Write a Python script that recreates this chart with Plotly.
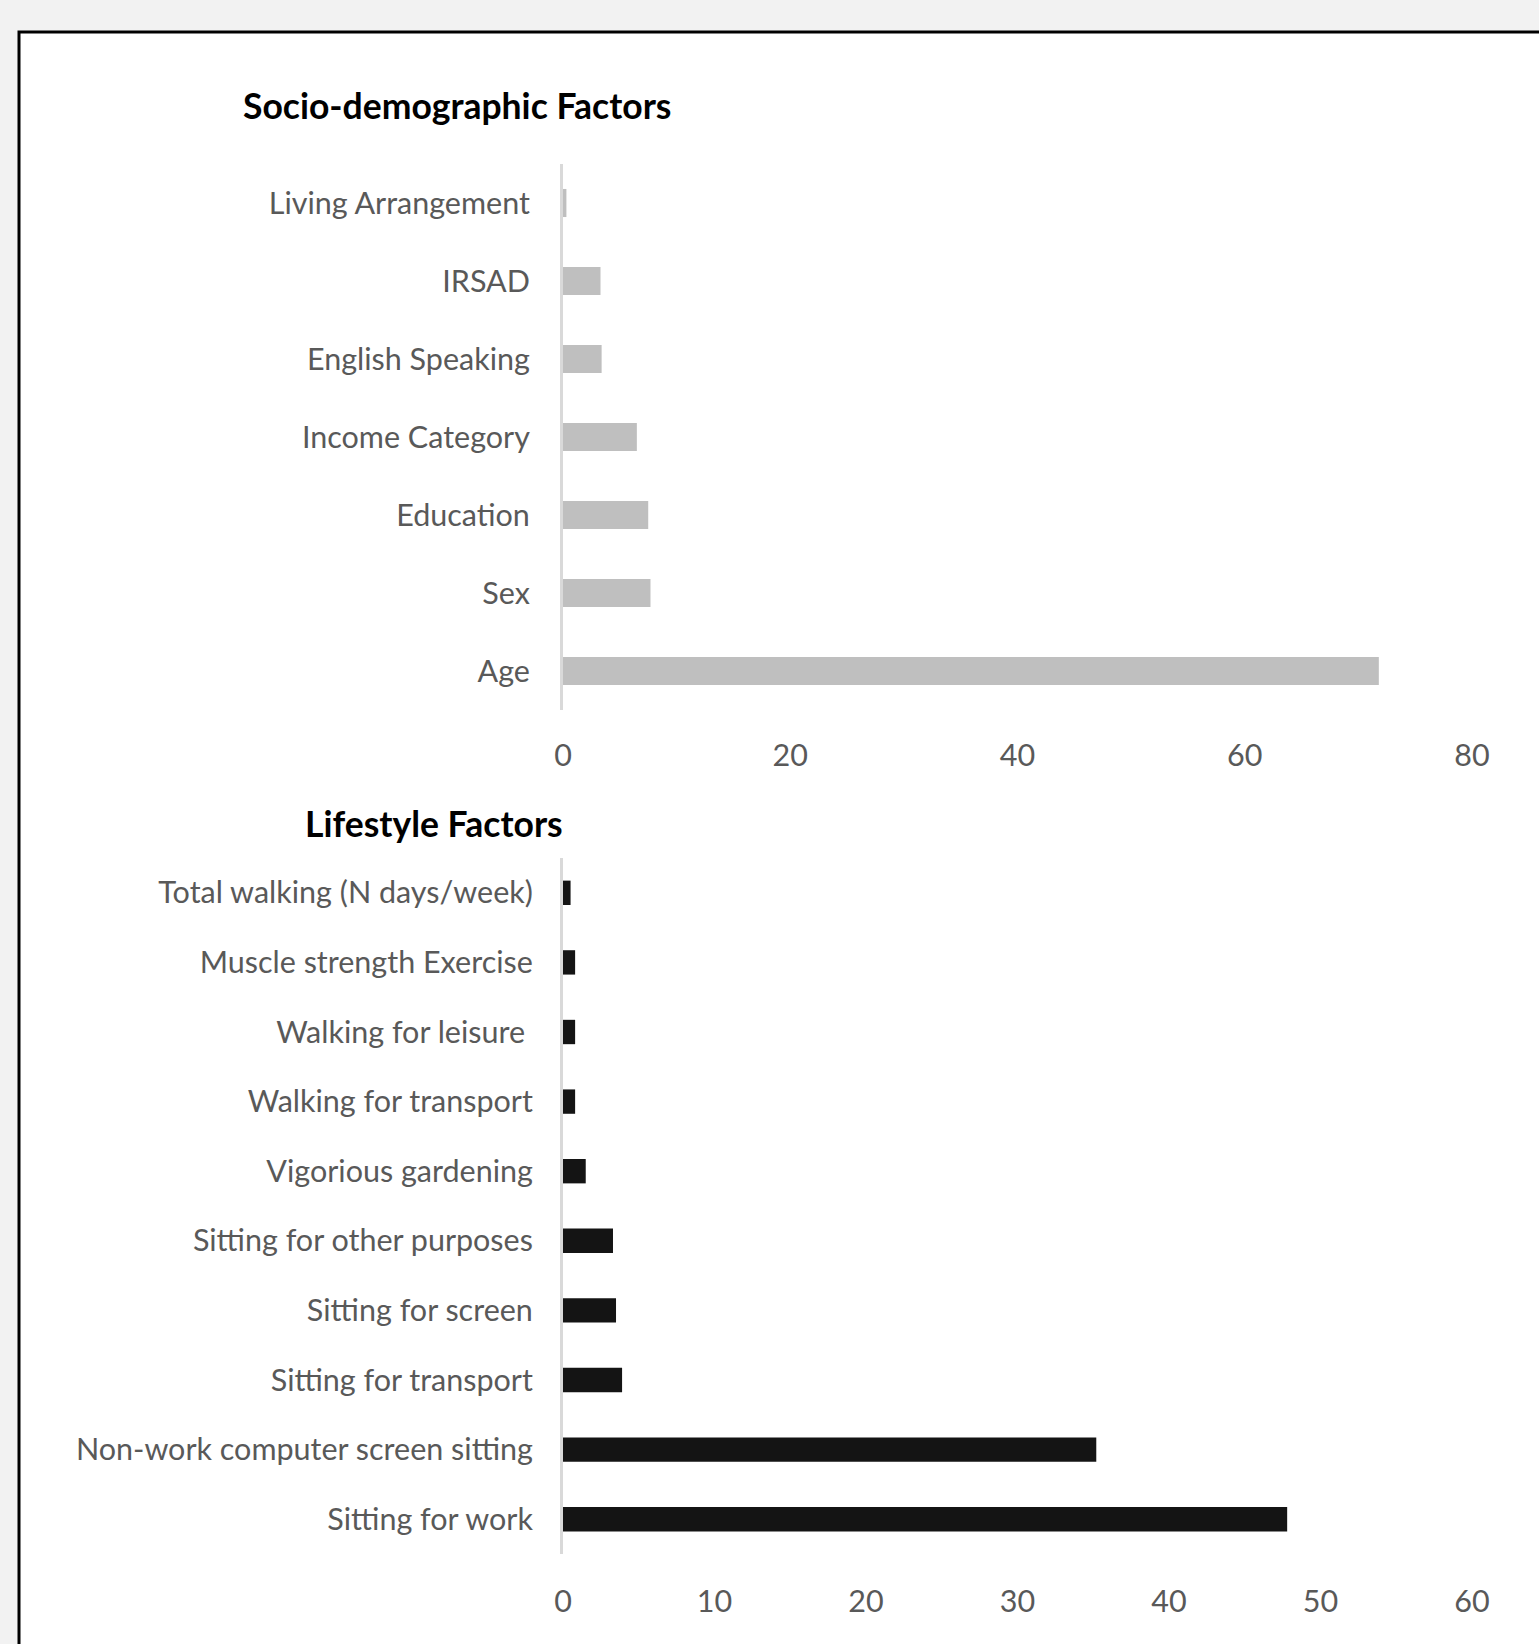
import plotly.graph_objects as go

W, H = 1539, 1644

socio_labels = ["Living Arrangement", "IRSAD", "English Speaking", "Income Category",
                "Education", "Sex", "Age"]
socio_values = [0.3, 3.3, 3.4, 6.5, 7.5, 7.7, 71.8]
socio_ticks = [0, 20, 40, 60, 80]

life_labels = ["Total walking (N days/week)", "Muscle strength Exercise", "Walking for leisure ",
               "Walking for transport", "Vigorious gardening", "Sitting for other purposes",
               "Sitting for screen", "Sitting for transport", "Non-work computer screen sitting",
               "Sitting for work"]
life_values = [0.5, 0.8, 0.8, 0.8, 1.5, 3.3, 3.5, 3.9, 35.2, 47.8]
life_ticks = [0, 10, 20, 30, 40, 50, 60]

FONT = "Lato"
TXT = "#595959"

fig = go.Figure()
fig.add_trace(go.Bar(x=socio_values, y=socio_labels, orientation="h",
                     marker=dict(color="#bfbfbf", line=dict(width=0)), width=0.36,
                     xaxis="x", yaxis="y", showlegend=False))
fig.add_trace(go.Bar(x=life_values, y=life_labels, orientation="h",
                     marker=dict(color="#141414", line=dict(width=0)), width=0.35,
                     xaxis="x2", yaxis="y2", showlegend=False))

xd = [563 / W, 1472 / W]


def xax(**kw):
    d = dict(showgrid=False, zeroline=False, showline=False, ticks="outside", ticklen=18,
             tickcolor="rgba(0,0,0,0)", tickfont=dict(family=FONT, size=30.5, color=TXT))
    d.update(kw)
    return d


def yax(tl, **kw):
    d = dict(showgrid=False, zeroline=False, showline=True, linecolor="#d9d9d9", linewidth=3,
             ticks="outside", ticklen=tl, tickcolor="rgba(0,0,0,0)",
             tickfont=dict(family=FONT, size=30.5, color=TXT), autorange="reversed",
             type="category")
    d.update(kw)
    return d


fig.update_layout(
    width=W, height=H, autosize=False,
    margin=dict(l=0, r=0, t=0, b=0, pad=0, autoexpand=False),
    paper_bgcolor="#f2f2f2", plot_bgcolor="rgba(0,0,0,0)",
    xaxis=xax(domain=xd, range=[0, 80], tickvals=socio_ticks, anchor="y"),
    yaxis=yax(24, domain=[1 - 710 / H, 1 - 164 / H], anchor="x"),
    xaxis2=xax(domain=xd, range=[0, 60], tickvals=life_ticks, anchor="y2", ticklen=20),
    yaxis2=yax(21, domain=[1 - 1554 / H, 1 - 858 / H], anchor="x2"),
    shapes=[dict(type="rect", xref="paper", yref="paper", x0=19 / W, x1=1.05,
                 y0=-0.05, y1=1 - 32 / H, fillcolor="white",
                 line=dict(color="black", width=3), layer="below")],
    annotations=[
        dict(text="<b>Socio-demographic Factors</b>", xref="paper", yref="paper",
             x=241 / W, y=1 - 106 / H, xanchor="left", yanchor="middle", showarrow=False,
             font=dict(family=FONT, size=35.5, color="black")),
        dict(text="<b>Lifestyle Factors</b>", xref="paper", yref="paper",
             x=303 / W, y=1 - 823 / H, xanchor="left", yanchor="middle", showarrow=False,
             font=dict(family=FONT, size=35.5, color="black")),
    ],
)

fig.write_html(
    "out.html",
    config={"displayModeBar": False, "responsive": False},
    post_script="document.documentElement.style.overflow='hidden';"
                "document.body.style.margin='0';document.body.style.overflow='hidden';",
)
